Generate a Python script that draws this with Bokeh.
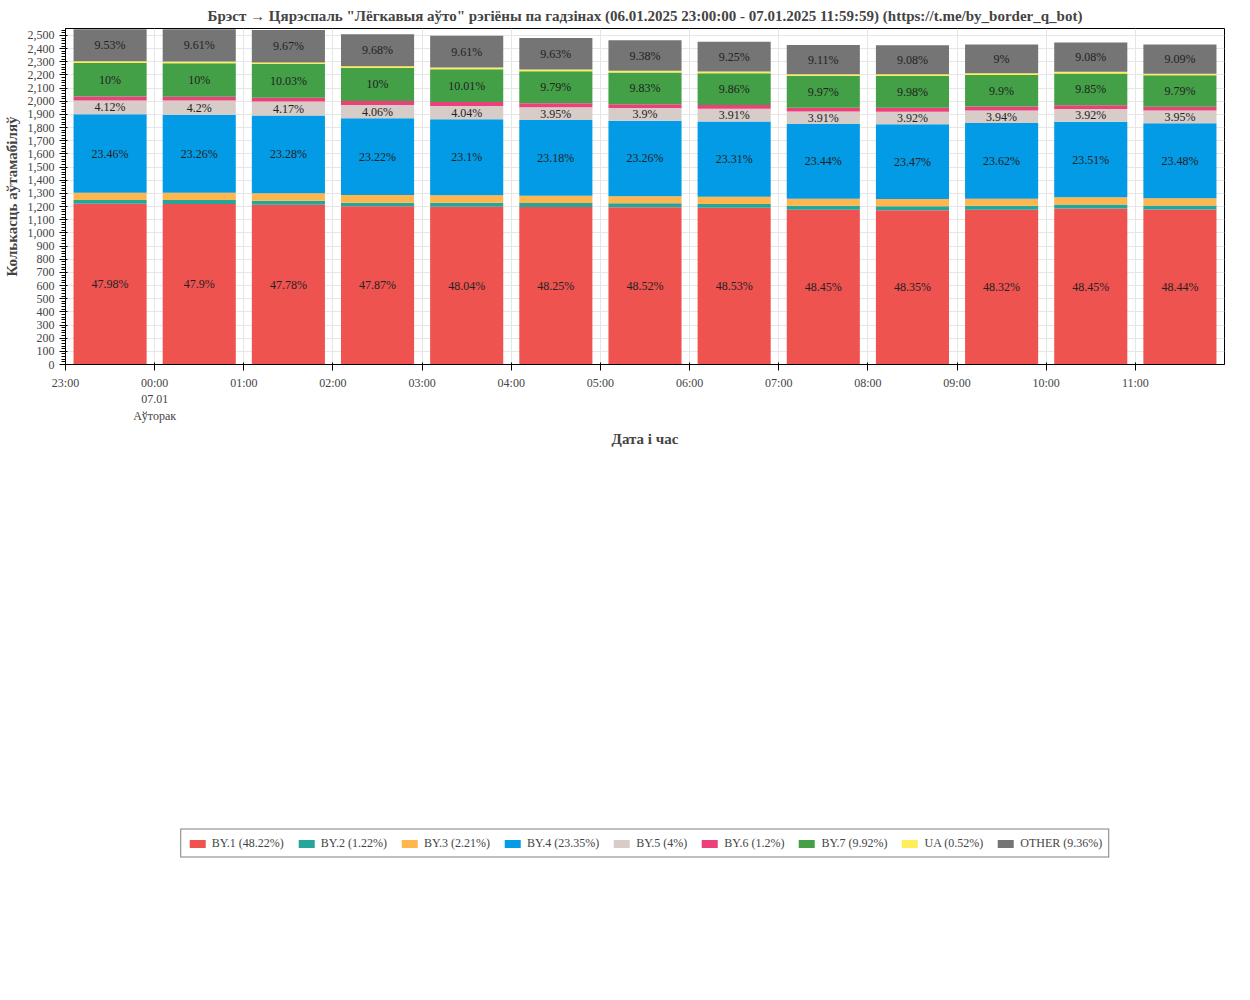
from bokeh.plotting import figure
from bokeh.models import ColumnDataSource, Legend, LegendItem, FixedTicker, Title, NumeralTickFormatter
from bokeh.embed import file_html
from bokeh.resources import INLINE
from bokeh.core.properties import value

hours = ["23:00", "00:00", "01:00", "02:00", "03:00", "04:00", "05:00", "06:00",
         "07:00", "08:00", "09:00", "10:00", "11:00"]
totals = [2547, 2547, 2541, 2510, 2497, 2480, 2463, 2453, 2427, 2425, 2432, 2446, 2431]
series = ["BY.1", "BY.2", "BY.3", "BY.4", "BY.5", "BY.6", "BY.7", "UA", "OTHER"]
legend_pct = ["48.22%", "1.22%", "2.21%", "23.35%", "4%", "1.2%", "9.92%", "0.52%", "9.36%"]
colors = ["#ef5350", "#26a69a", "#ffb74d", "#039be5", "#d7ccc8", "#ec407a", "#43a047", "#ffee58", "#757575"]
pct = {
    "BY.1": [47.98, 47.9, 47.78, 47.87, 48.04, 48.25, 48.52, 48.53, 48.45, 48.35, 48.32, 48.45, 48.44],
    "BY.2": [1.1, 1.18, 1.22, 1.12, 1.2, 1.2, 1.22, 1.22, 1.24, 1.26, 1.24, 1.24, 1.26],
    "BY.3": [2.12, 2.18, 2.18, 2.3, 2.28, 2.26, 2.2, 2.22, 2.2, 2.22, 2.26, 2.23, 2.25],
    "BY.4": [23.46, 23.26, 23.28, 23.22, 23.1, 23.18, 23.26, 23.31, 23.44, 23.47, 23.62, 23.51, 23.48],
    "BY.5": [4.12, 4.2, 4.17, 4.06, 4.04, 3.95, 3.9, 3.91, 3.91, 3.92, 3.94, 3.92, 3.95],
    "BY.6": [1.18, 1.16, 1.16, 1.22, 1.2, 1.2, 1.18, 1.18, 1.16, 1.2, 1.2, 1.2, 1.2],
    "BY.7": [10, 10, 10.03, 10, 10.01, 9.79, 9.83, 9.86, 9.97, 9.98, 9.9, 9.85, 9.79],
    "UA": [0.51, 0.51, 0.51, 0.53, 0.52, 0.54, 0.51, 0.52, 0.52, 0.52, 0.52, 0.52, 0.54],
    "OTHER": [9.53, 9.61, 9.67, 9.68, 9.61, 9.63, 9.38, 9.25, 9.11, 9.08, 9, 9.08, 9.09],
}

FONT = "Liberation Sans Narrow"
xs = [i + 0.5 for i in range(len(hours))]
data = {"x": xs}
for s in series:
    data[s] = [t * p / 100 for t, p in zip(totals, pct[s])]
src = ColumnDataSource(data)

p = figure(width=1232, height=984, x_range=(0, len(hours)), y_range=(0, 2553),
           output_backend="svg", toolbar_location=None, min_border_left=55, min_border_right=8)
p.title = Title(text='Брэст → Цярэспаль "Лёгкавыя аўто" рэгіёны па гадзінах (06.01.2025 23:00:00 - 07.01.2025 11:59:59) (https://t.me/by_border_q_bot)',
                align="center", text_font=FONT, text_font_size="15px", text_font_style="bold")
p.outline_line_color = "black"
p.outline_line_width = 1

renderers = p.vbar_stack(series, x="x", width=0.82, source=src, color=colors, line_color=None)

lx, ly, lt = [], [], []
for i in range(len(hours)):
    base = 0
    for s in series:
        v = data[s][i]
        if pct[s][i] >= 3:
            lx.append(xs[i]); ly.append(base + v / 2)
            lt.append(f"{pct[s][i]:g}%")
        base += v
p.text(x=lx, y=ly, text=lt, text_align="center", text_baseline="middle",
       text_font=value(FONT), text_font_size="12px", text_color="#222222")

items = [LegendItem(label=f"{s} ({lp})", renderers=[r]) for s, lp, r in zip(series, legend_pct, renderers)]
leg = Legend(items=items, orientation="horizontal", location="center",
             label_text_font=FONT, label_text_font_size="12px", glyph_width=20, glyph_height=10,
             label_height=12, padding=6, spacing=12, border_line_color="black", margin=10)
p.add_layout(leg, "below")

p.xaxis.ticker = FixedTicker(ticks=list(range(len(hours))))
ov = {i: h for i, h in enumerate(hours)}
ov[1] = "00:00\n07.01\nАўторак"
p.xaxis.major_label_overrides = ov
p.xaxis.axis_label = "Дата і час"
p.yaxis.axis_label = "Колькасць аўтамабіляў"
p.yaxis.ticker = FixedTicker(ticks=list(range(0, 2600, 100)), minor_ticks=list(range(0, 2560, 20)))
p.yaxis.formatter = NumeralTickFormatter(format="0,0")
for ax in (p.xaxis, p.yaxis):
    ax.axis_label_text_font = FONT
    ax.axis_label_text_font_size = "15px"
    ax.axis_label_text_font_style = "bold"
    ax.major_label_text_font = FONT
    ax.major_label_text_font_size = "12px"
    ax.axis_line_color = "black"
p.xgrid.ticker = FixedTicker(ticks=list(range(len(hours))))
p.grid.grid_line_color = "#e6e6e6"

open("out.html", "w").write(file_html(p, INLINE))
